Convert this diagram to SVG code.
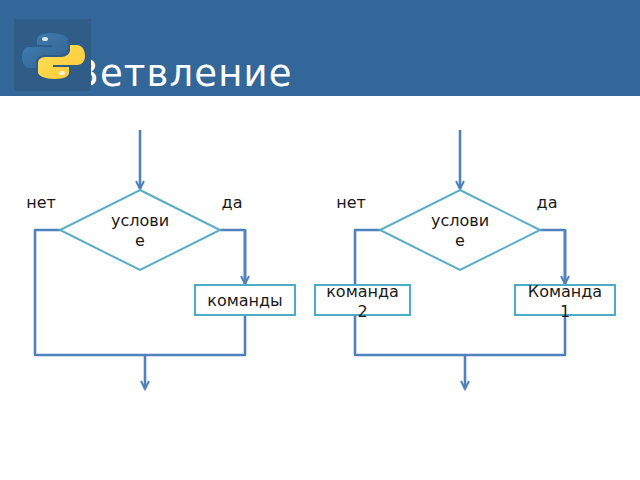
<svg xmlns="http://www.w3.org/2000/svg" width="640" height="480" viewBox="0 0 640 480">
<defs>
<marker id="arr" markerUnits="userSpaceOnUse" markerWidth="10" markerHeight="10" refX="9" refY="5" orient="auto" viewBox="0 0 10 10" overflow="visible"><path d="M1 1L9 5L1 9" fill="none" stroke="#4f81bd" stroke-width="2"/></marker>
<linearGradient id="pb" x1="0" y1="0" x2="1" y2="1"><stop offset="0" stop-color="#3f80b4"/><stop offset="1" stop-color="#32628f"/></linearGradient>
<linearGradient id="py" x1="0" y1="0" x2="1" y2="1"><stop offset="0" stop-color="#ffe05a"/><stop offset="1" stop-color="#fdc834"/></linearGradient>
</defs>
<style>
text{font-family:"DejaVu Sans",sans-serif;font-size:16px;fill:#1a1a1a;text-anchor:middle}
.d{fill:#fff;stroke:#56aec6;stroke-width:2}
.b{fill:#fff;stroke:#4aacc5;stroke-width:2}
.c{fill:none;stroke:#4f81bd;stroke-width:2.6;stroke-linejoin:round}
.a{marker-end:url(#arr)}
</style>
<rect width="640" height="96" fill="#336699"/>
<text x="183" y="85.500" style="font-size:37px;fill:#fff;letter-spacing:1.15px">Ветвление</text>
<g id="logo">
<rect x="14" y="19" width="77" height="72" fill="#2f5d88"/>
<path d="M50 33C41 33 37 36 37 40V45H52V47H29C24 47 22 52 22 57C22 63 25 68 30 68H36V62C36 58 39 55 44 55H58C62 55 68 53 68 48V40C68 36 60 33 50 33Z" fill="url(#pb)"/>
<path d="M55 79C64 79 69 76 69 73V67H53V65H77C82 65 85 61 85 56C85 50 82 45 77 45H70V50C70 54 66 57 61 57H46C42 57 38 59 38 63V72C38 76 45 79 55 79Z" fill="url(#py)"/>
<ellipse cx="45" cy="39" rx="3" ry="2" fill="#dfe8ee"/>
<ellipse cx="62" cy="73" rx="3" ry="2" fill="#f6f1dc"/>
</g>
<g id="connectors">
<path class="c a" d="M140 130V189"/>
<path class="c" d="M60 230H35V355H245V230H220"/>
<path class="c a" d="M245 230V284"/>
<path class="c a" d="M145 355V389"/>
<path class="c a" d="M460 130V189"/>
<path class="c" d="M380 230H355V355H565V230H540"/>
<path class="c a" d="M565 230V284"/>
<path class="c a" d="M465 355V389"/>
</g>
<g id="cond1"><path class="d" d="M140 190L220 230L140 270L60 230Z"/><text x="140" y="226">услови</text><text x="140" y="246">е</text></g>
<g id="cmd"><rect class="b" x="195" y="285" width="100" height="30"/><text x="245" y="306">команды</text></g>
<g id="cond2"><path class="d" d="M460 190L540 230L460 270L380 230Z"/><text x="460" y="226">услови</text><text x="460" y="246">е</text></g>
<g id="cmd2"><rect class="b" x="315" y="285" width="95" height="30"/><text x="362.500" y="297">команда</text><text x="362.500" y="317">2</text></g>
<g id="cmd1"><rect class="b" x="515" y="285" width="100" height="30"/><text x="565" y="297">Команда</text><text x="565" y="317">1</text></g>
<g id="labels"><text x="41" y="208">нет</text><text x="232" y="208">да</text><text x="351" y="208">нет</text><text x="547" y="208">да</text></g>
</svg>
